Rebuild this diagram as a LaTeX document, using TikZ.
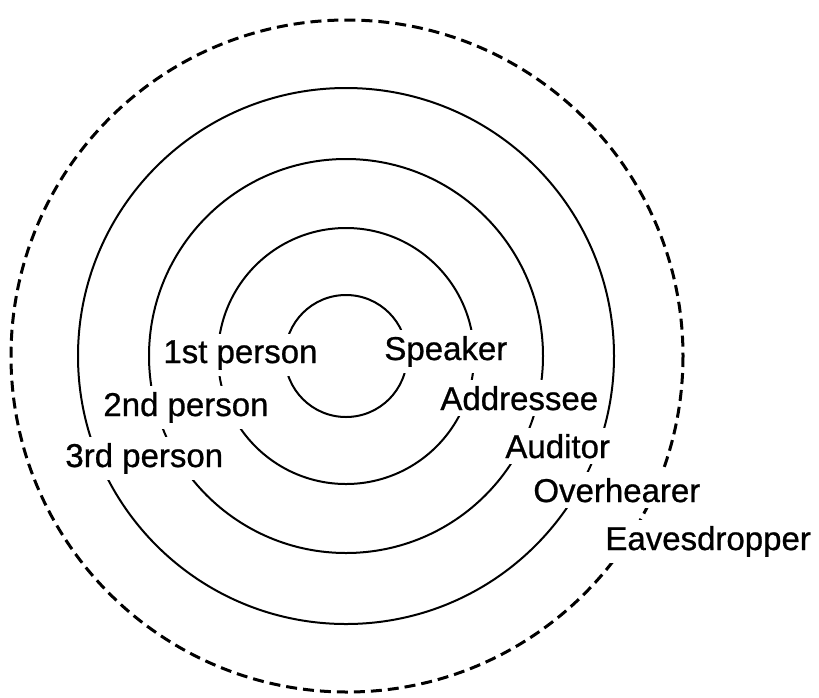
\documentclass[tikz,border=0pt]{standalone}
\usepackage{fontspec}
\setmainfont[FakeBold=0.8]{Liberation Sans}
\begin{document}
\begin{tikzpicture}[x=0.5pt,y=-0.5pt,
  ring/.style={line width=1pt},
  outerring/.style={line width=1.5pt, dash pattern=on 5.5pt off 3pt},
  lbl/.style={fill=white, inner xsep=1pt, inner ysep=3pt, anchor=base west,
              font=\fontsize{16.5}{18}\selectfont}]
\useasboundingbox (0,0) rectangle (819,697);
\coordinate (c) at (346,356);
\draw[ring] (c) circle[radius=61];
\draw[ring] (c) circle[radius=128];
\draw[ring] (c) circle[radius=197];
\draw[ring] (c) circle[radius=268];
\draw[outerring] (347,356) circle[radius=336];
\node[lbl] (p1) at (161,363) {1st person};
\node[lbl] (sp) at (382,360) {Speaker};
\node[lbl] (p2) at (101,416) {2nd person};
\node[lbl] (ad) at (438,410) {Addressee};
\node[lbl] (p3) at (63,467) {3rd person};
\node[lbl] (au) at (503,458) {Auditor};
\node[lbl] (ov) at (531,502) {Overhearer};
\node[lbl] (ea) at (603,550) {Eavesdropper};
\end{tikzpicture}
\end{document}
